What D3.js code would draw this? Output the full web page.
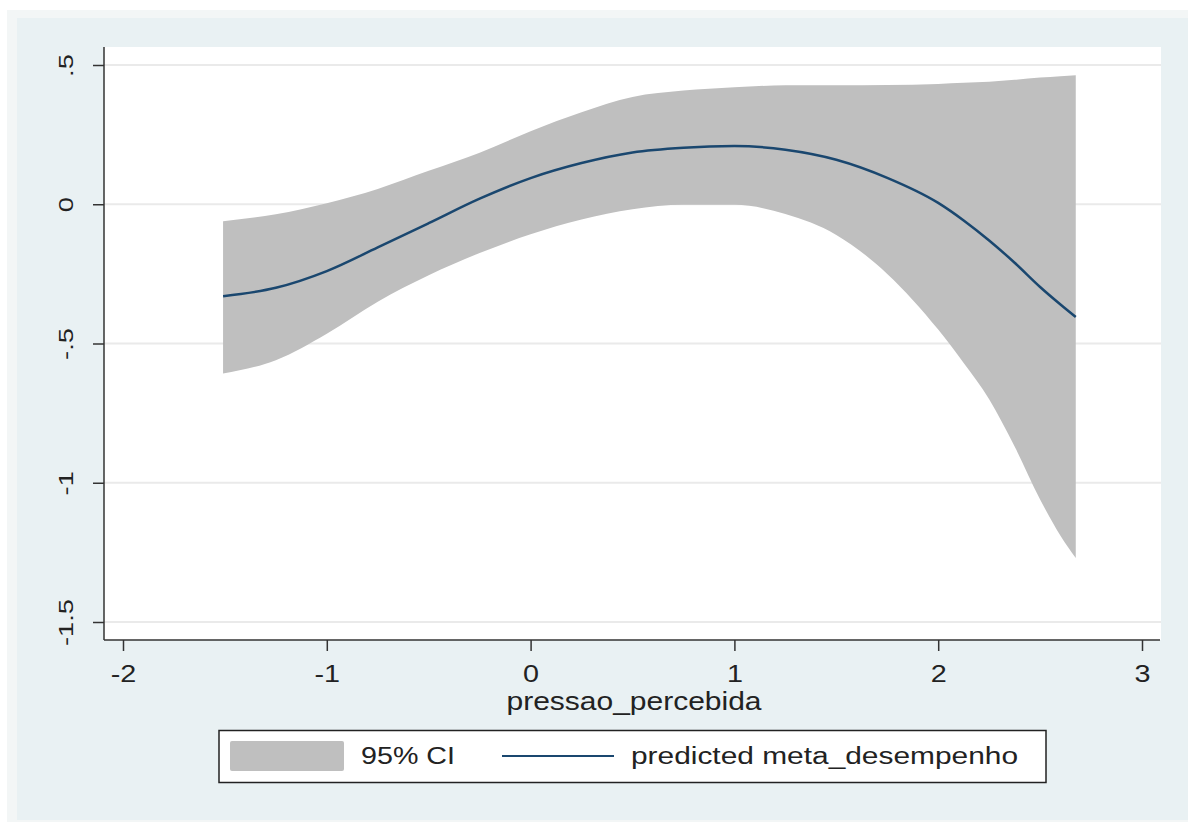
<!DOCTYPE html>
<html>
<head>
<meta charset="utf-8">
<script src="https://cdn.jsdelivr.net/npm/d3@7"></script>
<style>
body { margin: 0; background: #fff; }
svg { display: block; font-family: "Liberation Sans", Arial, sans-serif; }
</style>
</head>
<body>
<div id="canvas"></div>
<script>
// values
var xs = [-1.509, -1.25, -1.0, -0.75, -0.5, -0.25, 0, 0.25, 0.5, 0.75, 1.0, 1.25, 1.5, 1.75, 2.0, 2.125, 2.25, 2.375, 2.5, 2.6, 2.675];
var predicted = [-0.330, -0.300, -0.240, -0.155, -0.068, 0.020, 0.094, 0.148, 0.186, 0.203, 0.209, 0.196, 0.160, 0.095, 0.005, -0.058, -0.130, -0.210, -0.297, -0.360, -0.405];
var ciHigh = [-0.061, -0.036, 0.004, 0.055, 0.120, 0.185, 0.262, 0.330, 0.385, 0.408, 0.420, 0.427, 0.427, 0.428, 0.432, 0.436, 0.440, 0.447, 0.455, 0.460, 0.463];
var ciLow = [-0.608, -0.560, -0.465, -0.350, -0.255, -0.175, -0.108, -0.055, -0.018, -0.002, -0.002, -0.035, -0.110, -0.250, -0.450, -0.570, -0.700, -0.870, -1.060, -1.190, -1.270];
var xTicks = [-2, -1, 0, 1, 2, 3];
var yTicks = [-1.5, -1, -0.5, 0, 0.5];
var yTickLabels = ["-1.5", "-1", "-.5", "0", ".5"];
var xTitle = "pressao_percebida";
var legendLabels = ["95% CI", "predicted meta_desempenho"];

var w = 1188, h = 823;
var svg = d3.select("#canvas").append("svg").attr("width", w).attr("height", h);

// outer frame + stata background
svg.append("rect").attr("x", 7).attr("y", 10).attr("width", w - 7).attr("height", 812).attr("fill", "#f3f6f6");
svg.append("rect").attr("x", 17).attr("y", 18).attr("width", w - 17).attr("height", 802).attr("fill", "#e9f1f3");

var plotL = 104, plotR = 1161, plotT = 47, plotB = 640;
svg.append("rect").attr("x", plotL).attr("y", plotT).attr("width", plotR - plotL).attr("height", plotB - plotT).attr("fill", "#fff");

var x = d3.scaleLinear().domain([-2, 3]).range([123, 1142]);
var y = d3.scaleLinear().domain([-1.5, 0.5]).range([622, 65]);

// gridlines
svg.append("g").selectAll("line").data(yTicks).join("line")
    .attr("x1", plotL).attr("x2", plotR)
    .attr("y1", function (d) { return y(d); }).attr("y2", function (d) { return y(d); })
    .attr("stroke", "#eaeaea").attr("stroke-width", 2);

var pts = xs.map(function (v, i) {
    return { x: v, lo: ciLow[i], hi: ciHigh[i], p: predicted[i] };
});

svg.append("path").datum(pts)
    .attr("fill", "#bfbfbf")
    .attr("d", d3.area().curve(d3.curveMonotoneX)
        .x(function (d) { return x(d.x); })
        .y0(function (d) { return y(d.lo); })
        .y1(function (d) { return y(d.hi); }));

svg.append("path").datum(pts)
    .attr("fill", "none").attr("stroke", "#1a476f").attr("stroke-width", 2.5)
    .attr("d", d3.line().curve(d3.curveMonotoneX)
        .x(function (d) { return x(d.x); })
        .y(function (d) { return y(d.p); }));

// x axis
var xAxis = svg.append("g").attr("transform", "translate(0," + plotB + ")")
    .call(d3.axisBottom(x).tickValues(xTicks).tickSize(11).tickFormat(d3.format("d")));
xAxis.select(".domain").attr("d", "M" + plotL + ",0H" + (plotR - 1)).attr("stroke", "#333").attr("stroke-width", 1.5);
xAxis.selectAll(".tick line").attr("stroke", "#333").attr("stroke-width", 1.5);
xAxis.selectAll(".tick text").attr("font-size", 23).attr("fill", "#222")
    .attr("font-family", "Liberation Sans, Arial, sans-serif")
    .attr("y", 42).attr("dy", 0)
    .attr("transform", "scale(1.25,1)")
    .text(function (d) { return d < 0 ? "-" + Math.abs(d) : d; });

// y axis (labels rotated, glyphs a bit wide like stata's)
var yAxis = svg.append("g").attr("transform", "translate(" + plotL + ",0)")
    .call(d3.axisLeft(y).tickValues(yTicks).tickSize(11).tickFormat(function (d, i) { return yTickLabels[i]; }));
yAxis.select(".domain").attr("d", "M0," + plotT + "V" + plotB).attr("stroke", "#333").attr("stroke-width", 1.5);
yAxis.selectAll(".tick line").attr("stroke", "#333").attr("stroke-width", 1.5);
yAxis.selectAll(".tick text")
    .attr("font-size", 21).attr("fill", "#222").attr("font-family", "Liberation Sans, Arial, sans-serif")
    .attr("x", 0).attr("dy", 0)
    .attr("text-anchor", "middle")
    .attr("transform", "translate(-31,0) rotate(-90) scale(1.3,1)");

svg.append("text").attr("x", 634).attr("y", 710).attr("text-anchor", "middle")
    .attr("font-size", 26).attr("fill", "#222")
    .attr("textLength", 255).attr("lengthAdjust", "spacingAndGlyphs")
    .text(xTitle);

// legend
var lg = svg.append("g");
lg.append("rect").attr("x", 219).attr("y", 730.5).attr("width", 827).attr("height", 52)
    .attr("fill", "#fff").attr("stroke", "#222").attr("stroke-width", 1.5);
lg.append("rect").attr("x", 230).attr("y", 741).attr("width", 114).attr("height", 30).attr("rx", 2)
    .attr("fill", "#bfbfbf");
lg.append("text").attr("x", 361).attr("y", 764).attr("font-size", 23).attr("fill", "#222")
    .attr("textLength", 94).attr("lengthAdjust", "spacingAndGlyphs").text(legendLabels[0]);
lg.append("line").attr("x1", 502).attr("x2", 614).attr("y1", 756).attr("y2", 756)
    .attr("stroke", "#1a476f").attr("stroke-width", 2);
lg.append("text").attr("x", 631).attr("y", 764).attr("font-size", 23).attr("fill", "#222")
    .attr("textLength", 387).attr("lengthAdjust", "spacingAndGlyphs").text(legendLabels[1]);
</script>
</body>
</html>
